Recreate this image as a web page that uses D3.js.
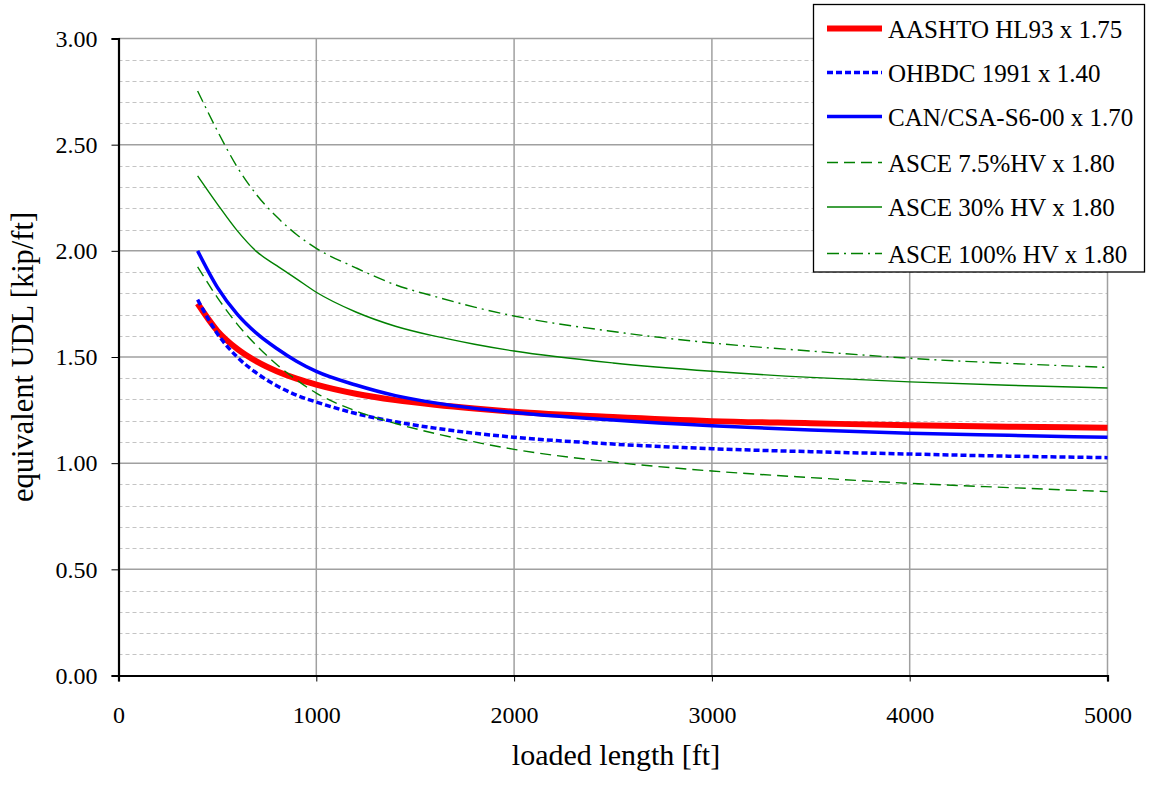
<!DOCTYPE html>
<html>
<head>
<meta charset="utf-8">
<script src="https://cdn.jsdelivr.net/npm/d3@7"></script>
<style>
  html, body { margin: 0; padding: 0; background: #fff; }
  svg { display: block; font-family: "Liberation Serif", "Times New Roman", serif; }
</style>
</head>
<body>
<svg id="chart" width="1150" height="788"></svg>
<script>
// ---- data ----
const lengths = [400, 500, 600, 700, 800, 900, 1000, 1200, 1400, 1600, 1800, 2000, 2500, 3000, 3500, 4000, 4500, 5000];
const aashto  = [1.752, 1.623, 1.538, 1.478, 1.433, 1.398, 1.370, 1.327, 1.297, 1.275, 1.257, 1.242, 1.217, 1.198, 1.188, 1.178, 1.172, 1.167];
const ohbdc   = [1.770, 1.610, 1.500, 1.423, 1.365, 1.320, 1.288, 1.234, 1.195, 1.165, 1.141, 1.122, 1.090, 1.068, 1.054, 1.043, 1.033, 1.026];
const cancsa  = [2.000, 1.828, 1.702, 1.610, 1.540, 1.480, 1.432, 1.368, 1.318, 1.284, 1.258, 1.239, 1.203, 1.176, 1.156, 1.141, 1.131, 1.122];
const asce75  = [1.925, 1.780, 1.655, 1.552, 1.465, 1.392, 1.330, 1.246, 1.187, 1.140, 1.100, 1.065, 1.005, 0.963, 0.932, 0.905, 0.885, 0.866];
const asce30  = [2.353, 2.220, 2.095, 1.995, 1.930, 1.868, 1.805, 1.712, 1.645, 1.598, 1.560, 1.528, 1.472, 1.433, 1.404, 1.383, 1.367, 1.354];
const asce100 = [2.753, 2.565, 2.395, 2.262, 2.160, 2.077, 2.012, 1.920, 1.840, 1.785, 1.735, 1.693, 1.620, 1.566, 1.528, 1.494, 1.470, 1.451];
const seriesNames = ["AASHTO HL93 x 1.75", "OHBDC 1991 x 1.40", "CAN/CSA-S6-00 x 1.70", "ASCE 7.5%HV x 1.80", "ASCE 30% HV x 1.80", "ASCE 100% HV x 1.80"];
const xTicks = [0, 1000, 2000, 3000, 4000, 5000];
const yTicks = [0, 0.5, 1.0, 1.5, 2.0, 2.5, 3.0];
const yMinor = [0.1, 0.2, 0.3, 0.4, 0.6, 0.7, 0.8, 0.9, 1.1, 1.2, 1.3, 1.4, 1.6, 1.7, 1.8, 1.9, 2.1, 2.2, 2.3, 2.4, 2.6, 2.7, 2.8, 2.9];
const xTitle = "loaded length [ft]";
const yTitle = "equivalent UDL [kip/ft]";

// ---- styles ----
const styles = [
  { color: "#ff0000", width: 6,    dash: null },
  { color: "#0000ff", width: 3.5,  dash: "6,3" },
  { color: "#0000ff", width: 3.5,  dash: null },
  { color: "#008000", width: 1.4,  dash: "11,6" },
  { color: "#008000", width: 1.4,  dash: null },
  { color: "#008000", width: 1.4,  dash: "12,5,2,5" }
];
const allSeries = [aashto, ohbdc, cancsa, asce75, asce30, asce100];

const svg = d3.select("#chart");
const pL = 118.5, pR = 1107.5, pT = 38.5, pB = 675.5;

const x = d3.scaleLinear().domain([0, 5000]).range([pL, pR]);
const y = d3.scaleLinear().domain([0, 3]).range([pB, pT]);

// minor gridlines
svg.append("g").selectAll("line").data(yMinor).join("line")
  .attr("x1", pL).attr("x2", pR)
  .attr("y1", d => Math.round(y(d)) + 0.5).attr("y2", d => Math.round(y(d)) + 0.5)
  .attr("stroke", "#c4c4c4").attr("stroke-width", 1.2).attr("stroke-dasharray", "4,3");

// major horizontal gridlines
svg.append("g").selectAll("line").data(yTicks.filter(d => d > 0)).join("line")
  .attr("x1", pL).attr("x2", pR)
  .attr("y1", d => y(d)).attr("y2", d => y(d))
  .attr("stroke", "#a0a0a0").attr("stroke-width", 1.5);

// major vertical gridlines
svg.append("g").selectAll("line").data(xTicks.filter(d => d > 0)).join("line")
  .attr("x1", d => x(d)).attr("x2", d => x(d))
  .attr("y1", pT).attr("y2", pB)
  .attr("stroke", "#a0a0a0").attr("stroke-width", 1.5);

// axes
const xAxis = d3.axisBottom(x).tickValues(xTicks).tickSize(6).tickPadding(24).tickFormat(d3.format("d"));
const gx = svg.append("g").attr("transform", `translate(0,${pB})`).call(xAxis);
gx.select(".domain").attr("stroke", "#000").attr("stroke-width", 2.2);
gx.selectAll(".tick line").attr("stroke", "#000").attr("stroke-width", 1);
gx.selectAll(".tick text").attr("font-size", 24).attr("font-family", "Liberation Serif").attr("fill", "#000");

const yAxis = d3.axisLeft(y).tickValues(yTicks).tickSize(7).tickPadding(14).tickFormat(d3.format(".2f"));
const gy = svg.append("g").attr("transform", `translate(${pL},0)`).call(yAxis);
gy.select(".domain").attr("stroke", "#000").attr("stroke-width", 2.2);
gy.selectAll(".tick line").attr("stroke", "#000").attr("stroke-width", 1);
gy.selectAll(".tick text").attr("font-size", 24).attr("font-family", "Liberation Serif").attr("fill", "#000");

// series lines
const line = d3.line().x((d, i) => x(lengths[i])).y(d => y(d)).curve(d3.curveMonotoneX);
allSeries.forEach((s, k) => {
  const st = styles[k];
  const p = svg.append("path").datum(s)
    .attr("d", line)
    .attr("fill", "none")
    .attr("stroke", st.color)
    .attr("stroke-width", st.width)
    .attr("stroke-linejoin", "round");
  if (st.dash) p.attr("stroke-dasharray", st.dash);
});

// axis titles
svg.append("text").attr("x", 616).attr("y", 765)
  .attr("text-anchor", "middle").attr("font-size", 30).text(xTitle);
svg.append("text")
  .attr("transform", `translate(33,357) rotate(-90)`)
  .attr("text-anchor", "middle").attr("font-size", 30.5).text(yTitle);

// legend
const lg = svg.append("g");
lg.append("rect").attr("x", 813.5).attr("y", 4.5).attr("width", 331).attr("height", 267.5)
  .attr("fill", "#fff").attr("stroke", "#000").attr("stroke-width", 1.3);
const rowY = [28.5, 72.5, 116.5, 162.5, 207, 253.5];
seriesNames.forEach((name, k) => {
  const st = styles[k];
  const l = lg.append("line").attr("x1", 827).attr("x2", 882)
    .attr("y1", rowY[k]).attr("y2", rowY[k])
    .attr("stroke", st.color).attr("stroke-width", st.width);
  if (st.dash) l.attr("stroke-dasharray", st.dash);
  lg.append("text").attr("x", 888).attr("y", rowY[k] + 9)
    .attr("font-size", 25).text(name);
});
</script>
</body>
</html>
